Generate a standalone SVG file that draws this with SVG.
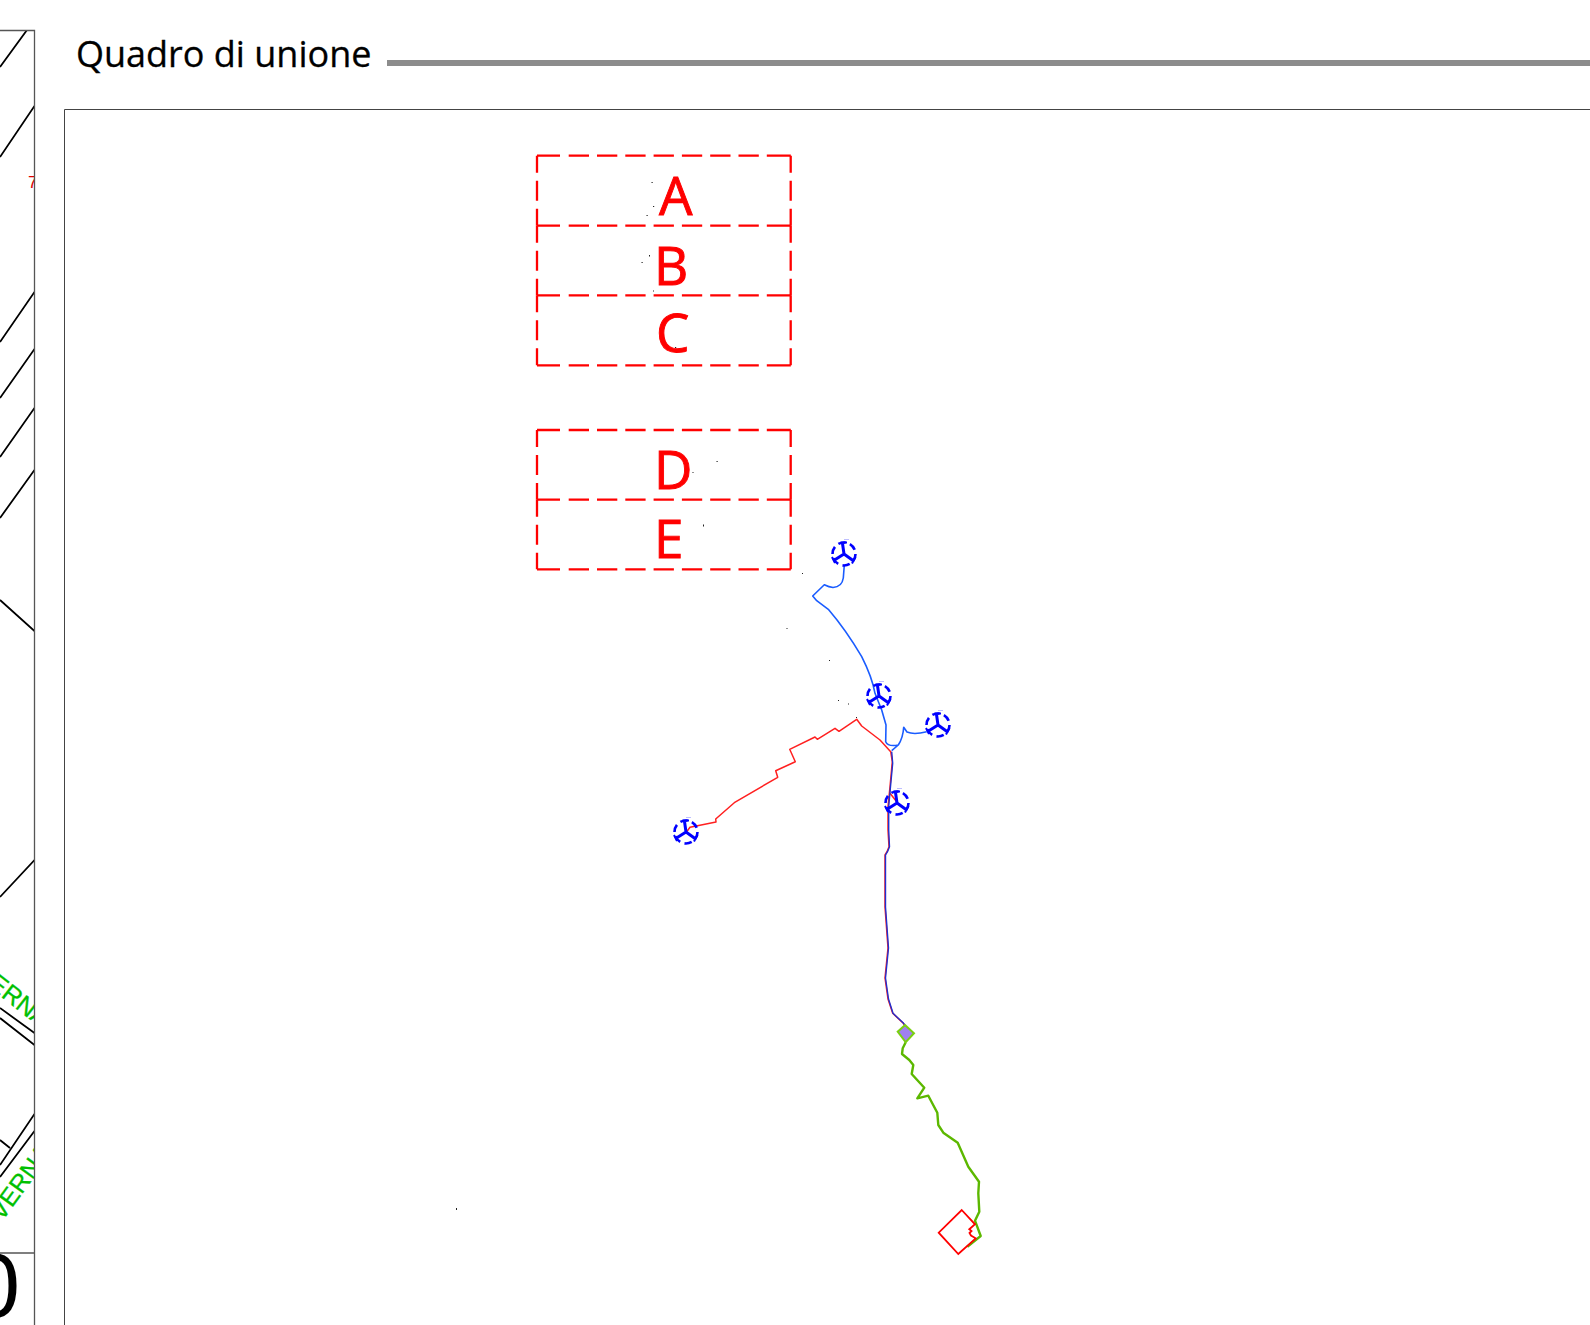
<svg xmlns="http://www.w3.org/2000/svg" xmlns:xlink="http://www.w3.org/1999/xlink" width="1590" height="1325" viewBox="0 0 1590 1325">
<style>
.l{font-family:"Open Sans","Liberation Sans",sans-serif;font-size:53px;fill:#ff0000;stroke:#ff0000;stroke-width:.9}
.h{stroke:#ff0000;stroke-width:2.3;fill:none;stroke-dasharray:23 8.7 20.3 8 20.3 8 20.3 8 20.3 8 20.3 8 20.3 8 20.3 8 24}
.v{stroke:#ff0000;stroke-width:2.3;fill:none;stroke-dasharray:17 8 20 8 17}
.k{stroke:#000;stroke-width:1.8;fill:none}
.g{font-family:"Liberation Sans",sans-serif;font-size:25px;fill:#00c000;stroke:#00c000;stroke-width:.3}
.d{fill:#222}
.wire{fill:none;stroke-linejoin:round}
</style>
<defs>
<clipPath id="c"><rect x="0" y="30" width="34.5" height="1295"/></clipPath>
<g id="t">
<circle r="11.5" fill="none" stroke="#0000ff" stroke-width="2.6" stroke-dasharray="7.5 4.5"/>
<path d="M0 0L-1.5 -10.5M0 0L-9.5 6M0 0L9 6.5" stroke="#0000ff" stroke-width="3" fill="none"/>
<path d="M-3.5 -11.5H3M-12 3L-9 9M11.5 3L8 9.5" stroke="#0000ff" stroke-width="2" fill="none"/>
<path d="M0 -14.5H5" stroke="#8080ff" stroke-width="1" opacity=".5"/>
</g>
</defs>

<g id="left-panel">
<g clip-path="url(#c)">
<path class="k" d="M0 67L27 30M0 157L34.5 106M0 342L34.5 292M0 398L34.5 349M0 457L34.5 408M0 518L34.5 470M0 600L34.5 631M0 897L34.5 860M0 1008L34.5 1033M0 1018L34.5 1045M0 1165L34.5 1114M0 1177L34.5 1131M0 1140L10 1148"/>
<text x="28" y="188" font-family="Liberation Sans,sans-serif" font-size="17" fill="#e00000">7</text>
<text class="g" transform="translate(-13 986) rotate(38)">ERNA</text>
<text class="g" transform="translate(2 1222) rotate(-54)">VERNA</text>
<text x="-30" y="1317" font-family="Liberation Sans,sans-serif" font-size="90" fill="#000">0</text>
</g>
<path d="M0 30.5H34.5V1325M0 1253H34.5" fill="none" stroke="#555" stroke-width="1.3"/>
</g>

<g id="title">
<text x="76" y="67" font-family="Open Sans,Liberation Sans,sans-serif" font-size="36" fill="#000" stroke="#000" stroke-width=".3">Quadro di unione</text>
<rect x="387" y="60" width="1203" height="6" fill="#8c8c8c"/>
</g>

<g id="frame"><path d="M64.5 1325V109.5H1590" fill="none" stroke="#444" stroke-width="1"/></g>

<g id="sheet-A"><path class="h" d="M537 155.7H791.2"/><path class="v" d="M537 155.7V225.7M790.7 155.7V225.7"/><text class="l" x="659" y="215">A</text></g>
<g id="sheet-B"><path class="h" d="M537 225.7H791.2"/><path class="v" d="M537 225.7V295.3M790.7 225.7V295.3"/><text class="l" x="654" y="285">B</text></g>
<g id="sheet-C"><path class="h" d="M537 295.3H791.2M537 365.3H791.2"/><path class="v" d="M537 295.3V365.3M790.7 295.3V365.3"/><text class="l" x="656" y="352">C</text></g>
<g id="sheet-D"><path class="h" d="M537 430H791.2"/><path class="v" d="M537 430V499.7M790.7 430V499.7"/><text class="l" x="654" y="489">D</text></g>
<g id="sheet-E"><path class="h" d="M537 499.7H791.2M537 569.3H791.2"/><path class="v" d="M537 499.7V569.3M790.7 499.7V569.3"/><text class="l" x="654" y="558">E</text></g>

<g id="connectors">
<path class="wire" stroke="#ff2020" stroke-width="1.5" d="M686.7 831.7L690 827.3L716 822L715.7 819L734.3 802.7L777.7 777.3L775.7 770.7L795.3 761.7L789.7 749.3L815 737L817.3 739.3L835 728.3L839 731.3L856.7 719.3L861.7 726L880 740L890.7 751.7L892.3 761.7L890 786.7L888 806.7L888 830L889 846.7L887 851.7L885 855L885 907L888 948L885 978L888 999L892.7 1013.3L903.3 1023.3L909.3 1031.7M890 793.3L896.7 801.7"/>
<path class="wire" stroke="#1a5cff" stroke-width="1.6" d="M844.3 565L843.3 578Q842 587 833 587.5Q829 587 824.3 584.7L812.7 596L816.7 600.7L828.3 609.3Q846 630 861.7 656.7Q872 677 875 693.3L881.7 710L886 725L885.7 741.7Q888 747 898.3 745M926.7 731.7Q914 735 907 732L903.7 727.3Q903 738 898.3 745L891.7 750.7"/>
<path class="wire" stroke="#2030d0" stroke-width="1.4" d="M891.7 751.7L892.7 763.3L890.5 786.7L888.7 806.7L888.7 830L889.5 846.7L887.5 851.7L885.5 855L885.5 907L888.5 948L885.5 978L888.5 999L893 1013.3L903.6 1023.3L909.6 1031.7"/>
<path class="wire" stroke="#5cb800" stroke-width="2.4" d="M905.7 1042.3L902.7 1048.3L902 1054L909.3 1060L913.3 1065L911.7 1074L924.3 1087.7L917.3 1098.3L928.3 1095.7L937.3 1112.7L938.3 1125L943.3 1132.7L957.7 1142.7L968.3 1166.7L979 1181.7L978.3 1193.3L979.3 1211.7L975 1220.7L980.7 1236L967.3 1246.7"/>
</g>

<g id="turbine-1"><use xlink:href="#t" href="#t" x="844" y="554"/></g>
<g id="turbine-2"><use xlink:href="#t" href="#t" x="879" y="696"/></g>
<g id="turbine-3"><use xlink:href="#t" href="#t" x="938" y="725"/></g>
<g id="turbine-4"><use xlink:href="#t" href="#t" x="897" y="803"/></g>
<g id="turbine-5"><use xlink:href="#t" href="#t" x="686" y="832"/></g>

<g id="substation"><path d="M905 1025L914 1033.3L905.7 1042.3L897.7 1031.7Z" fill="#a080f0" stroke="#7ad010" stroke-width="2"/></g>
<g id="site"><path d="M961.7 1210L975 1224.3L969.3 1229.3L971.5 1231L969.5 1233L971 1235.5L975.7 1238.3L958.3 1254L938.7 1232.7Z" fill="none" stroke="#ff0000" stroke-width="1.8"/></g>

<g id="specks" class="d">
<rect x="651.5" y="182" width="1.2" height="1"/><rect x="653" y="206" width="1.2" height="1"/><rect x="646.5" y="215" width="1.2" height="1"/><rect x="649" y="255" width="1" height="1.5"/><rect x="641.5" y="262" width="1.2" height="1"/><rect x="653" y="290.5" width="1" height="1"/><rect x="675" y="347" width="1.2" height="1"/><rect x="716.5" y="461" width="1.2" height="1"/><rect x="692.5" y="472" width="1" height="1"/><rect x="703" y="524.5" width="1" height="2"/><rect x="802" y="573" width="1" height="1"/><rect x="786.5" y="628" width="1" height="1"/><rect x="829" y="660" width="1" height="1"/><rect x="838" y="700" width="1" height="1"/><rect x="848" y="703.5" width="1" height="1"/><rect x="856" y="717" width="1" height="1"/><rect x="456" y="1208" width="1" height="2"/>
</g>
</svg>
